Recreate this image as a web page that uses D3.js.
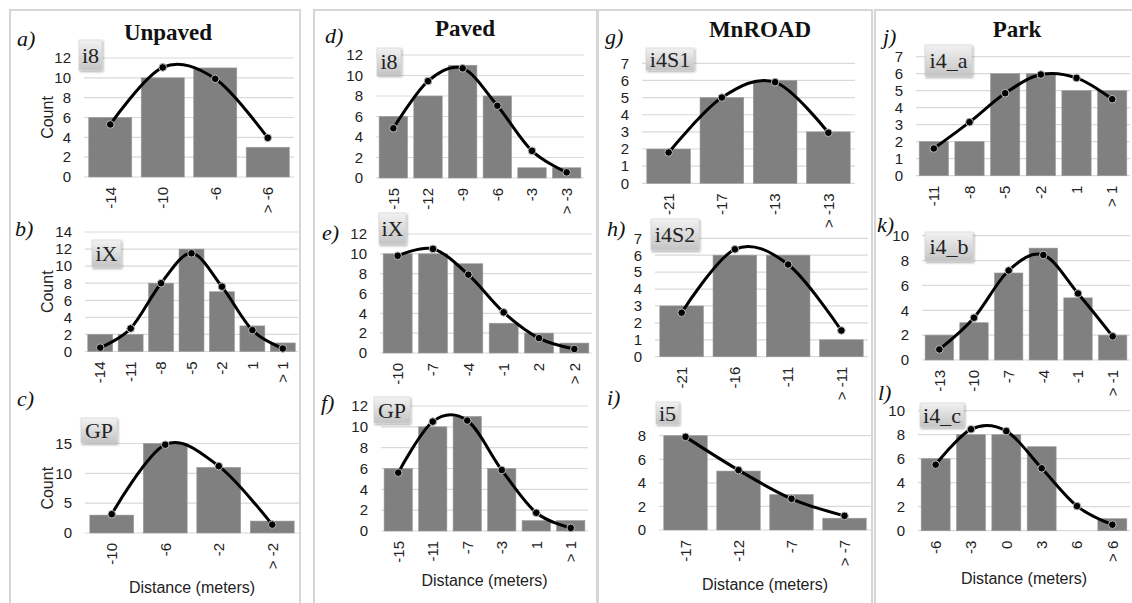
<!DOCTYPE html>
<html><head><meta charset="utf-8">
<script src="https://cdn.jsdelivr.net/npm/d3@7"></script>
<style>body{margin:0;background:#fff}svg{display:block}</style>
</head><body>
<svg id="c" width="1132" height="603"></svg>
<script>
// ---------- data ----------
const columnTitles = ["Unpaved", "Paved", "MnROAD", "Park"];

const catsA = ["-14", "-10", "-6", "> -6"];
const countsA = [6, 10, 11, 3];
const fitA = [5.3, 11.05, 9.9, 3.95];

const catsB = ["-14", "-11", "-8", "-5", "-2", "1", "> 1"];
const countsB = [2, 2, 8, 12, 7, 3, 1];
const fitB = [0.45, 2.7, 8.0, 11.5, 7.6, 2.5, 0.35];

const catsC = ["-10", "-6", "-2", "> -2"];
const countsC = [3, 15, 11, 2];
const fitC = [3.15, 14.8, 11.2, 1.4];

const catsD = ["-15", "-12", "-9", "-6", "-3", "> -3"];
const countsD = [6, 8, 11, 8, 1, 1];
const fitD = [4.85, 9.45, 10.7, 7.05, 2.65, 0.55];

const catsE = ["-10", "-7", "-4", "-1", "2", "> 2"];
const countsE = [10, 10, 9, 3, 2, 1];
const fitE = [9.8, 10.5, 7.9, 4.1, 1.5, 0.4];

const catsF = ["-15", "-11", "-7", "-3", "1", "> 1"];
const countsF = [6, 10, 11, 6, 1, 1];
const fitF = [5.6, 10.5, 10.6, 5.85, 1.75, 0.3];

const catsG = ["-21", "-17", "-13", "> -13"];
const countsG = [2, 5, 6, 3];
const fitG = [1.8, 5.0, 5.9, 2.95];

const catsH = ["-21", "-16", "-11", "> -11"];
const countsH = [3, 6, 6, 1];
const fitH = [2.6, 6.35, 5.45, 1.55];

const catsI = ["-17", "-12", "-7", "> -7"];
const countsI = [8, 5, 3, 1];
const fitI = [7.9, 5.08, 2.65, 1.2];

const catsJ = ["-11", "-8", "-5", "-2", "1", "> 1"];
const countsJ = [2, 2, 6, 6, 5, 5];
const fitJ = [1.6, 3.15, 4.85, 5.95, 5.75, 4.5];

const catsK = ["-13", "-10", "-7", "-4", "-1", "> -1"];
const countsK = [2, 3, 7, 9, 5, 2];
const fitK = [0.85, 3.4, 7.2, 8.45, 5.35, 1.9];

const catsL = ["-6", "-3", "0", "3", "6", "> 6"];
const countsL = [6, 8, 8, 7, 0, 1];
const fitL = [5.5, 8.45, 8.3, 5.2, 2.05, 0.5];

// ---------- layout ----------
const panels = [
  {letter:"a)", name:"i8",   cats:catsA, counts:countsA, fit:fitA, ymax:12, step:2, x0:84,  x1:294,  yb:177,   yt:58,   lx:17,  ly:46,  box:[79,40,23,30],  count:true},
  {letter:"b)", name:"iX",   cats:catsB, counts:countsB, fit:fitB, ymax:14, step:2, x0:85,  x1:298,  yb:351.5, yt:232,  lx:15,  ly:236, box:[92,240,29,27], count:true},
  {letter:"c)", name:"GP",   cats:catsC, counts:countsC, fit:fitC, ymax:15, step:5, x0:85,  x1:299,  yb:533,   yt:443.5,lx:17,  ly:406, box:[81,418,36,25], count:true, dist:593},
  {letter:"d)", name:"i8",   cats:catsD, counts:countsD, fit:fitD, ymax:12, step:2, x0:376, x1:584,  yb:178,   yt:55,   lx:325, ly:43,  box:[377,48,24,27]},
  {letter:"e)", name:"iX",   cats:catsE, counts:countsE, fit:fitE, ymax:12, step:2, x0:380, x1:592,  yb:353,   yt:234,  lx:322, ly:240, box:[379,213,27,31]},
  {letter:"f)", name:"GP",   cats:catsF, counts:countsF, fit:fitF, ymax:12, step:2, x0:381, x1:588,  yb:531,   yt:406,  lx:321, ly:410, box:[374,397,36,26], dist:586},
  {letter:"g)", name:"i4S1", cats:catsG, counts:countsG, fit:fitG, ymax:7,  step:1, x0:642, x1:855,  yb:183.3, yt:63.3, lx:605, ly:44,  box:[646,48,48,22]},
  {letter:"h)", name:"i4S2", cats:catsH, counts:countsH, fit:fitH, ymax:7,  step:1, x0:655, x1:868,  yb:356.7, yt:238.3,lx:607, ly:236, box:[651,219,48,31]},
  {letter:"i)", name:"i5",   cats:catsI, counts:countsI, fit:fitI, ymax:8,  step:2, x0:659, x1:871,  yb:530,   yt:435.7,lx:607, ly:405, box:[656,402,23,22], dist:590},
  {letter:"j)", name:"i4_a", cats:catsJ, counts:countsJ, fit:fitJ, ymax:7,  step:1, x0:916, x1:1130, yb:175.7, yt:56.7, lx:883, ly:44,  box:[925,45,47,31]},
  {letter:"k)", name:"i4_b", cats:catsK, counts:countsK, fit:fitK, ymax:10, step:2, x0:922, x1:1130, yb:360,   yt:235.7,lx:877, ly:232, box:[925,232,48,29]},
  {letter:"l)", name:"i4_c", cats:catsL, counts:countsL, fit:fitL, ymax:10, step:2, x0:918, x1:1130, yb:530.7, yt:410.7,lx:878, ly:400, box:[920,403,44,24], dist:584}
];
const columns = [
  {x:10,  w:290, title:columnTitles[0], tx:168,  ty:40},
  {x:314, w:283, title:columnTitles[1], tx:465,  ty:36},
  {x:598, w:274, title:columnTitles[2], tx:760,  ty:37},
  {x:875, w:262, title:columnTitles[3], tx:1017, ty:37}
];

const SANS = "'Liberation Sans', Arial, sans-serif";
const SERIF = "'Liberation Serif', 'Times New Roman', serif";

const svg = d3.select("#c");
const defs = svg.append("defs");
const grad = defs.append("linearGradient").attr("id","boxg").attr("x1",0).attr("y1",0).attr("x2",0).attr("y2",1);
grad.append("stop").attr("offset","0%").attr("stop-color","#f2f2f2");
grad.append("stop").attr("offset","100%").attr("stop-color","#c4c4c4");
const flt = defs.append("filter").attr("id","sh").attr("x","-20%").attr("y","-20%").attr("width","150%").attr("height","150%");
flt.append("feDropShadow").attr("dx",1).attr("dy",1.5).attr("stdDeviation",1.2).attr("flood-color","#000").attr("flood-opacity",0.35);

// column frames
columns.forEach(c => {
  svg.append("rect").attr("x",c.x).attr("y",10).attr("width",c.w).attr("height",600)
    .attr("fill","none").attr("stroke","#d6d6d6").attr("stroke-width",2);
  svg.append("text").attr("x",c.tx).attr("y",c.ty).attr("text-anchor","middle")
    .attr("font-family",SERIF).attr("font-weight","bold").attr("font-size",23).attr("fill","#111").text(c.title);
});

panels.forEach(p => {
  const x = d3.scaleBand().domain(p.cats).range([p.x0, p.x1]).paddingInner(0.18).paddingOuter(0.09);
  const y = d3.scaleLinear().domain([0, p.ymax]).range([p.yb, p.yt]);
  const g = svg.append("g");
  const ticks = d3.range(0, p.ymax + 1e-9, p.step);

  g.selectAll("line.grid").data(ticks).join("line").attr("class","grid")
    .attr("x1", p.x0).attr("x2", p.x1).attr("y1", d => y(d)).attr("y2", d => y(d))
    .attr("stroke", "#d9d9d9").attr("stroke-width", 1.2);

  const ya = g.append("g").attr("transform", `translate(${p.x0},0)`)
    .call(d3.axisLeft(y).tickValues(ticks).tickFormat(d3.format("d")).tickSize(0).tickPadding(13));
  ya.select(".domain").remove();
  ya.selectAll("text").attr("font-family", SANS).attr("font-size", 15).attr("fill", "#222");

  g.selectAll("rect.bar").data(p.counts).join("rect").attr("class","bar")
    .attr("x", (d, i) => x(p.cats[i])).attr("width", x.bandwidth())
    .attr("y", d => y(d)).attr("height", d => p.yb - y(d))
    .attr("fill", "#808080").attr("stroke", "#9a9a9a").attr("stroke-width", 0.6);

  const xa = g.append("g").attr("transform", `translate(0,${p.yb})`)
    .call(d3.axisBottom(x).tickSize(0).tickPadding(0));
  xa.select(".domain").remove();
  xa.selectAll("text").attr("font-family", SANS).attr("font-size", 15).attr("fill", "#222")
    .attr("transform", "rotate(-90)").attr("text-anchor", "end")
    .attr("x", -10).attr("y", 0).attr("dy", "0.35em");

  const line = d3.line().x((d, i) => x(p.cats[i]) + x.bandwidth() / 2).y(d => y(d))
    .curve(d3.curveCardinal.tension(0));
  g.append("path").datum(p.fit).attr("d", line).attr("fill", "none")
    .attr("stroke", "#000").attr("stroke-width", 3);
  g.selectAll("circle.pt").data(p.fit).join("circle").attr("class","pt")
    .attr("cx", (d, i) => x(p.cats[i]) + x.bandwidth() / 2).attr("cy", d => y(d))
    .attr("r", 3.8).attr("fill", "#000").attr("stroke", "#bbb").attr("stroke-width", 1);

  // label box
  const [bx, by, bw, bh] = p.box;
  g.append("rect").attr("x", bx).attr("y", by).attr("width", bw).attr("height", bh)
    .attr("fill", "url(#boxg)").attr("stroke", "#d0d0d0").attr("stroke-width", 0.6).attr("filter", "url(#sh)");
  g.append("text").attr("x", bx + bw / 2).attr("y", by + bh / 2).attr("dy", "0.35em")
    .attr("text-anchor", "middle").attr("font-family", SERIF).attr("font-size", 22).attr("fill", "#222").text(p.name);

  // panel letter
  g.append("text").attr("x", p.lx).attr("y", p.ly).attr("font-family", SERIF).attr("font-style", "italic")
    .attr("font-size", 22).attr("fill", "#111").text(p.letter);

  if (p.count) {
    g.append("text").attr("transform", `translate(47,${(p.yb + p.yt) / 2}) rotate(-90)`)
      .attr("text-anchor", "middle").attr("dy", "0.35em").attr("font-family", SANS).attr("font-size", 16)
      .attr("fill", "#222").text("Count");
  }
  if (p.dist) {
    g.append("text").attr("x", (p.x0 + p.x1) / 2).attr("y", p.dist).attr("text-anchor", "middle")
      .attr("font-family", SANS).attr("font-size", 16).attr("fill", "#222").text("Distance (meters)");
  }
});
</script>
</body></html>
